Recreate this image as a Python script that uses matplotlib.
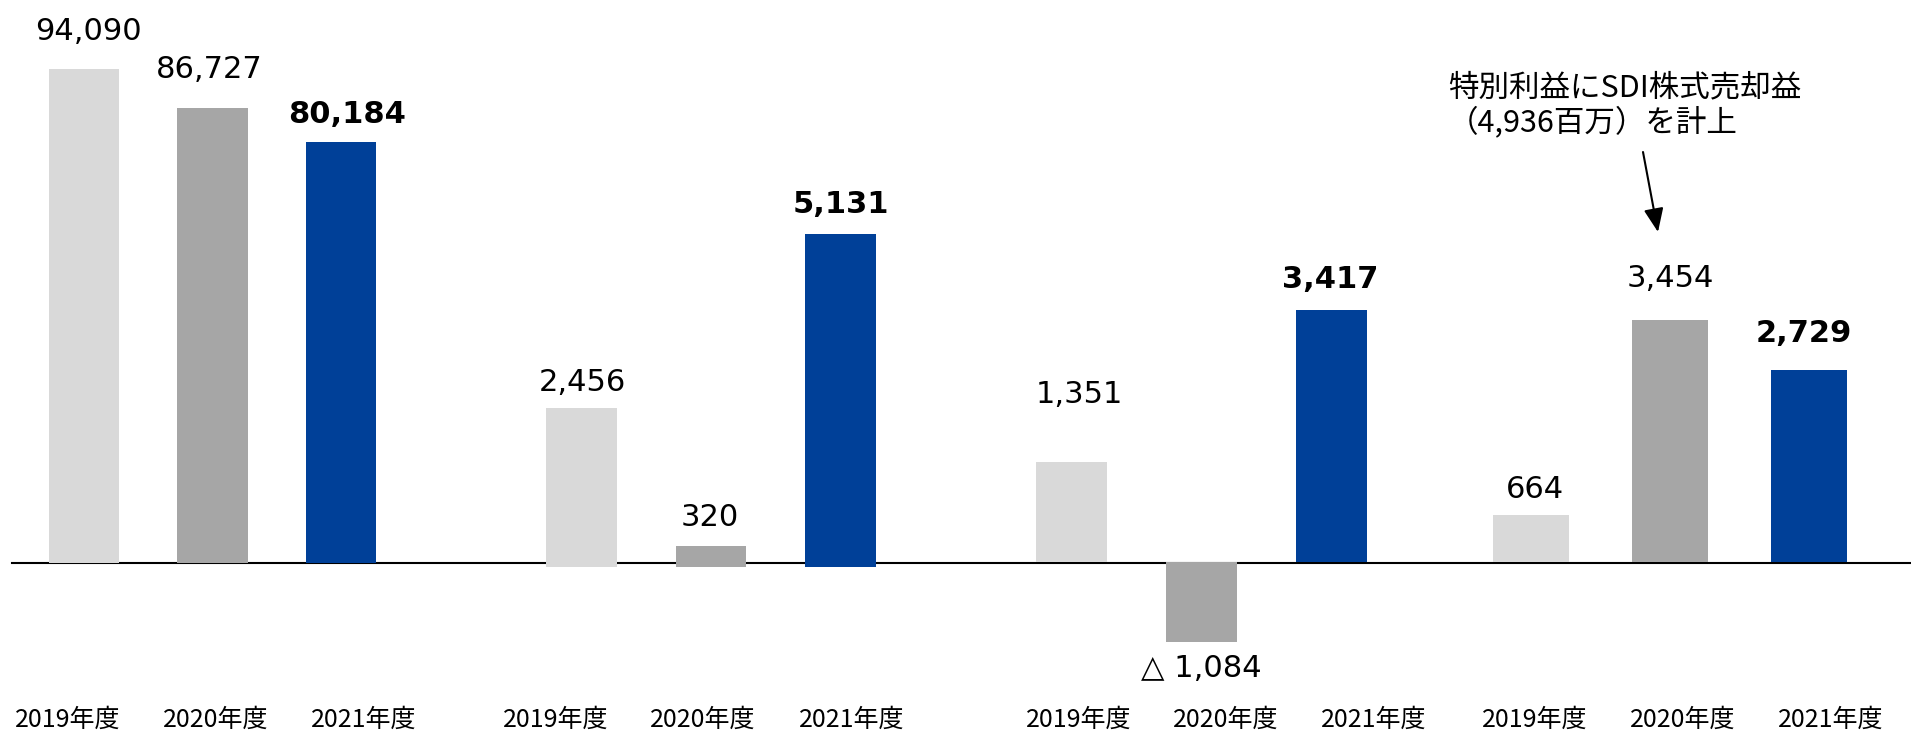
import matplotlib
matplotlib.use("Agg")
import matplotlib.pyplot as plt
from matplotlib.lines import Line2D

# ---------------- data ----------------
categories = ["2019年度", "2020年度", "2021年度"]
revenue = [94090, 86727, 80184]        # 売上高
op_profit = [2456, 320, 5131]          # 営業利益
ord_profit = [1351, -1084, 3417]       # 経常利益
net_profit = [664, 3454, 2729]         # 当期純利益
note_text = "特別利益にSDI株式売却益\n（4,936百万）を計上"

groups = [revenue, op_profit, ord_profit, net_profit]

# ---------------- layout / style ----------------
W, H = 1911, 732
colors = ["#D9D9D9", "#A6A6A6", "#004098"]
first_center_px = [84, 581.5, 1071.5, 1531]
spacing_px = [128.5, 129.5, 130, 139]
zero_px = [563, 567, 562, 562]           # from top
px_per_unit = [0.00525, 0.0649, 0.0738, 0.0702]
bar_w = 0.546
label_gap_px = [[29, 30, 19], [17, 20, 21], [59, -35, 22], [17, 33, 28]]
label_dx_px = [[4, -3, 6], [1, -1, 0], [8, 0, -1], [4, 0, -5]]
cat_x_px = [[68, 216, 364], [556, 703, 852], [1079, 1226, 1374], [1535, 1683, 1831]]
cat_y_px = 720
baseline_px = 563
cjk = ["Noto Sans CJK JP", "DejaVu Sans"]

fig = plt.figure(figsize=(W / 100, H / 100), dpi=100)

def fmt(v):
    s = f"{abs(v):,}"
    return s if v >= 0 else "△ " + s

axes = []
for g, vals in enumerate(groups):
    s = spacing_px[g]
    left = first_center_px[g] - 0.5 * s
    ax = fig.add_axes([left / W, 0, 3 * s / W, 1])
    ax.set_xlim(-0.5, 2.5)
    z, k = zero_px[g], px_per_unit[g]
    ax.set_ylim(-(H - z) / k, z / k)
    ax.set_axis_off()
    ax.patch.set_visible(False)
    x = list(range(len(vals)))
    ax.bar(x, vals, width=bar_w, color=colors, zorder=2)
    for i, v in enumerate(vals):
        gap = label_gap_px[g][i]
        ax.annotate(fmt(v), xy=(i, v),
                    xytext=(label_dx_px[g][i] * 0.72, gap * 0.72),
                    textcoords="offset points", ha="center", va="baseline",
                    fontsize=22, family="DejaVu Sans",
                    fontweight="bold" if i == 2 else "normal", color="black")
    for i, c in enumerate(categories):
        fig.text(cat_x_px[g][i] / W, 1 - cat_y_px / H, c, ha="center", va="center",
                 fontsize=18, family=cjk, color="black")
    axes.append(ax)

# baseline
fig.add_artist(Line2D([12 / W, 1.0], [1 - baseline_px / H] * 2, transform=fig.transFigure,
                      color="black", lw=1.5, zorder=-1))

# annotation
fig.text(1448 / W, 1 - 72 / H, note_text, ha="left", va="top", fontsize=22,
         family=cjk, linespacing=1.15, color="black")
axes[3].annotate("", xy=(1658, H - 232), xycoords="figure pixels",
                 xytext=(1643, H - 152), textcoords="figure pixels",
                 arrowprops=dict(arrowstyle="-|>,head_length=0.6,head_width=0.25",
                                 mutation_scale=24, color="black", lw=1.5,
                                 shrinkA=0, shrinkB=0))

fig.savefig("out.png", dpi=100)
